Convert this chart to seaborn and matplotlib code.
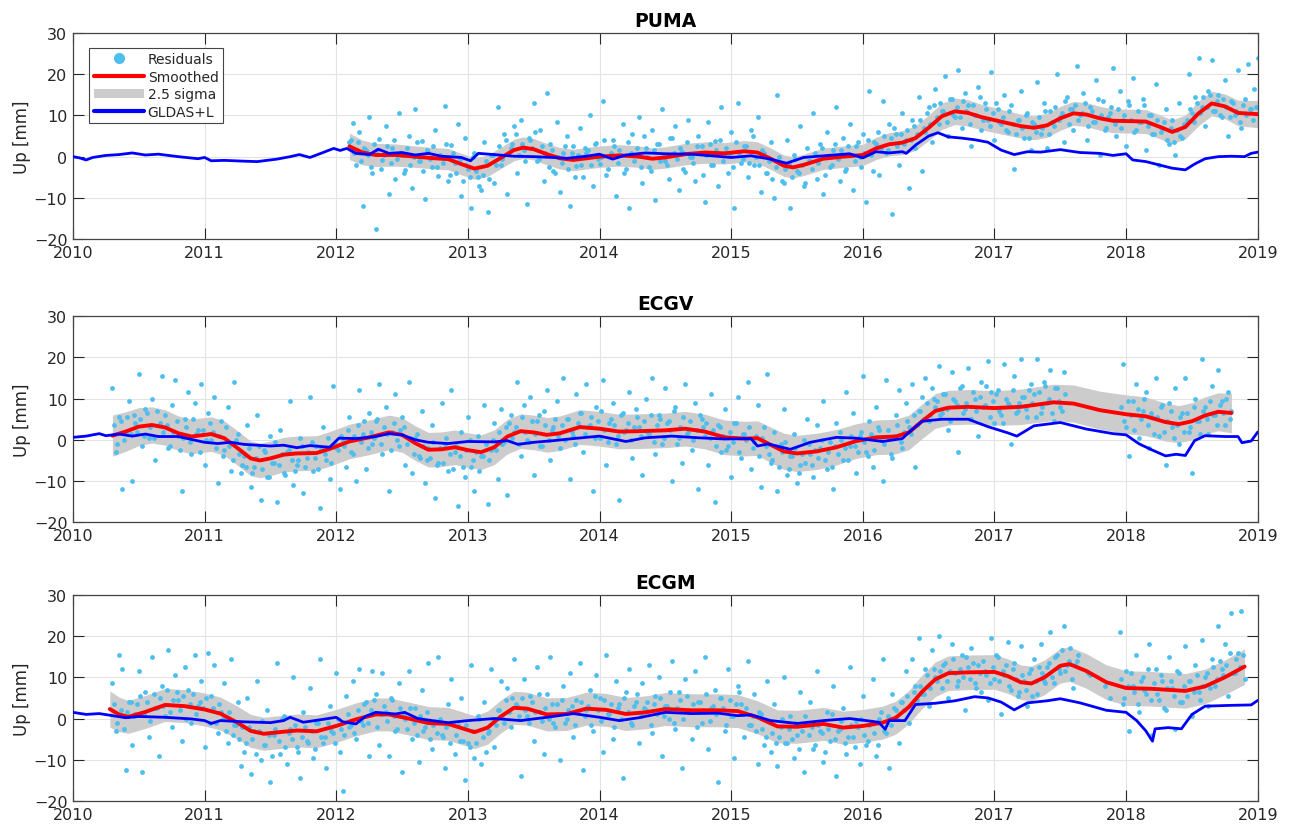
import numpy as np
import pandas as pd
import matplotlib
matplotlib.use("Agg")
import matplotlib.pyplot as plt
import seaborn as sns
from matplotlib.lines import Line2D
from matplotlib.patches import Patch

sns.set_theme(style="ticks")
plt.rcParams['font.family'] = ['DejaVu Sans']

stations = ["PUMA", "ECGV", "ECGM"]
year_ticks = list(range(2010, 2020))
up_ticks = [-20, -10, 0, 10, 20, 30]

# residuals, two interleaved sets sampled every 0.025 yr from their start years
res_step = 0.025
puma_res_start = 2012.1
puma_res = [
    3.5, 8.2, -2.1, 6.0, -12.0, 1.5, 9.5, -4.0, -17.5, 4.2, -0.8, 7.5, -9.0, 2.0, -5.5, 10.5, 0.5, -3.2, 5.0, -7.5,
    11.5, -1.0, 3.8, -10.2, 1.2, -2.5, 6.5, -4.8, 0.0, 12.2, -6.0, 2.8, -1.5, 8.0, -9.5, 4.5, -3.0, -12.5, 1.0, -5.0,
    -8.0, 3.5, -13.5, 0.5, -6.5, 12.0, -2.0, 5.5, -9.0, 2.2, 7.5, -4.0, 9.0, 1.5, -11.5, 4.0, 13.0, -1.0, 6.5, -6.0,
    15.5, 3.0, -3.5, 8.5, -8.5, 0.8, 5.0, -12.0, 2.5, -2.2, 7.0, -5.0, 1.0, 10.0, -7.0, 3.2, -1.8, 13.5, -4.5, 0.2,
    4.0, -9.5, 1.5, 8.0, -3.0, -12.5, 5.5, 0.5, 9.5, -6.5, 2.0, -2.5, 6.5, -10.5, 3.0, 11.5, -1.0, -5.5, 4.5, 7.5,
    -8.0, 1.2, -3.8, 9.0, 0.0, -6.0, 5.0, 2.5, -11.0, 8.5, -2.0, 3.8, -7.0, 12.0, 1.0, -4.0, 6.0, -12.5, 13.0, -1.5,
    2.5, -5.0, 6.5, -2.0, 9.5, -8.5, 1.0, -4.0, 3.5, -10.0, 15.0, -1.5, -6.5, 4.0, -12.5, 0.5, -3.5, 7.5, -7.0, 2.0,
    -1.0, 10.5, -5.5, 3.0, -9.0, 6.0, -2.5, 1.5, 12.0, -6.0, 4.5, -3.0, 8.0, -8.0, 2.5, 0.0, 5.5, -11.0, 16.0, -3.5,
    3.0, -4.5, 13.5, 1.0, 8.0, -14.0, 5.5, -2.0, 10.5, 4.0, -7.5, 9.0, 2.0, 14.5, -3.5, 6.0, 12.0, 3.5, 16.5, 8.0,
    11.0, 19.5, 5.0, 14.0, 9.5, 21.0, 7.0, 15.5, 12.5, 2.5, 10.0, 17.0, 6.5, 13.0, 9.0, 20.5, 4.0, 11.5, 8.0, 15.0,
    6.0, 12.5, -3.0, 9.0, 16.0, 4.5, 10.5, 1.5, 8.0, 18.0, 5.5, 13.0, 2.0, 11.0, 7.5, 20.0, 9.5, 3.5, 14.5, 11.5,
    6.5, 22.0, 10.0, 15.5, 4.0, 12.0, 8.5, 18.5, 0.5, 13.5, 7.0, 10.5, 21.5, 5.0, 16.0, 9.0, 2.5, 12.5, 19.0, 6.5,
    8.5, 14.0, 1.5, 10.0, 5.5, 17.5, -2.0, 7.0, 11.5, 3.0, 9.0, 0.5, 13.0, 4.5, 8.0, 20.0, 10.5, 14.5, 24.0, 12.0,
    7.5, 16.0, 23.5, 11.0, 15.0, 9.5, 18.5, 5.0, 13.5, 10.0, 21.0, 7.0, 14.0, 22.5, 11.5, 16.5, 24.0,
]
puma_res2_start = 2012.1125
puma_res2 = [
    4.0, 1.0, 3.5, -1.0, 2.0, 0.5, -2.5, 3.0,
    1.5, -3.0, 0.5, 2.5, -1.5, 4.0, -0.5, 1.0, -4.0, 2.0, -2.0, 0.0, 3.5, -1.0, -3.5, 1.5, -0.5, 2.5, -2.5, 0.5,
    -1.5, 3.0, -4.5, 1.0,
    -4.0, -0.5, -6.0, -2.0, -5.0, 0.0, -3.5, -7.0,
    -4.5, -1.0, -5.5, 0.5, -2.0, 2.5, -0.5, 4.0, 1.0, 3.0,
    5.5, 0.5, 3.0, -1.0, 4.5, 2.0, 6.0, -0.5, 2.5, 1.0,
    -2.5, 1.5, -4.0, 0.0, -1.5, 2.5, -3.0, 1.0, -5.0, 0.5, -2.0, 2.0,
    1.5, -2.0, 3.0, -0.5, 0.0, 4.0, -3.0, 1.0, 2.5, -1.5, 0.5, -4.0, 3.5, 1.0, -1.0, 2.0, -2.5, 5.0, 0.0, -3.5,
    1.5, 3.0, -1.0, 0.5, -2.0, 4.5, 1.0, -0.5, 2.0, -3.0, 3.5, 0.0, -1.5, 2.5, 1.0, -4.5, 0.5, 3.0, -2.0, 1.5,
    4.0, -1.0, 2.0, 0.5, -2.5, 3.5, 1.0, -0.5, 2.5, -1.5, 5.0, 0.0,
    -2.0, 1.5, -4.0, -1.0, -5.5, -2.5, 0.0, -6.0, -3.0, -1.5, -5.0, -0.5, -4.0, -2.0, -6.5, -1.0,
    -3.0, 1.0, -1.5, 2.0, -4.5, 0.0, -2.0, 3.0, -0.5, 1.5, -3.5, 2.5, 0.5, -1.0, 3.5, -2.5,
    1.0, 4.0, 0.5, 3.5, 6.0, 2.0, 5.0, 1.5, 4.5, 7.0, 2.5, 5.5, 3.0, 6.5, 4.0, 7.5,
    5.5, 9.0, 7.0, 10.5, 8.0, 12.5, 9.5, 13.0, 11.0, 8.5, 14.0, 10.0,
    12.0, 9.5, 13.5, 11.0, 8.0, 12.5, 10.0, 14.5, 9.0, 11.5, 7.5, 10.5, 13.0, 8.5, 9.5, 6.5, 11.0, 8.0, 5.5, 9.0,
    7.0, 10.0, 4.5, 8.5,
    6.0, 9.5, 7.0, 11.0, 5.5, 8.5, 12.0, 9.0, 10.5, 13.5, 8.0, 11.5,
    12.5, 9.0, 10.5, 13.0, 7.5, 11.0, 8.5, 14.0, 10.0, 6.5, 9.5, 12.0, 8.0, 11.5, 7.0, 10.0, 13.5, 9.0, 6.0, 11.0,
    8.5, 12.5, 7.5, 10.0, 5.5, 9.0,
    6.0, 8.5, 4.0, 7.0, 3.5, 6.5, 5.0, 8.0,
    9.0, 11.5, 8.5, 13.0, 10.5, 14.5, 12.0, 15.0,
    11.0, 13.5, 10.0, 14.0, 12.0, 9.5, 13.0, 11.0, 8.5, 12.5, 10.0, 11.5, 9.0, 12.0,
]

ecgv_res_start = 2010.3
ecgv_res = [
    12.5, -3.0, 5.5, -12.0, 2.0, 9.5, -10.0, 4.0, 16.0, -1.5, 7.5, 0.5, 10.0, -5.0, 3.5, 15.5, 6.0, -2.0, 8.5, 14.5,
    1.0, -12.5, 5.0, 11.5, -3.5, 9.0, 2.5, 13.5, -6.0, 6.5, 0.0, 10.5, -10.5, 4.5, -2.5, 8.0, -7.5, 14.0, 1.5, -8.0,
    -4.0, 3.5, -11.5, -6.5, 6.0, -14.5, -2.5, -9.0, 1.0, -5.5, -15.0, 2.5, -8.0, -3.0, 9.5, -11.0, -6.0, 0.5, -13.0, -4.5,
    10.5, -7.5, -1.5, -16.5, 3.0, -5.0, -9.5, 13.0, -2.0, -12.0, 0.0, -6.5, 5.5, -3.5, -10.0, 12.0, 1.5, -7.0, 6.5, -1.0,
    4.5, 13.5, -3.5, 8.0, -12.5, 2.0, 11.0, -1.5, 5.5, -6.0, 14.0, -8.0, 0.5, -4.0, 7.0, -10.5, -2.0, 3.5, -14.0, -5.5,
    9.0, -1.0, -7.5, 12.0, -3.0, -16.0, 2.0, -9.0, 5.5, -6.5, -12.5, 1.0, -4.0, 8.5, -15.5, -2.5, 4.0, -9.5, 7.5, -0.5,
    -13.5, 6.0, 2.0, 14.0, -4.0, 8.5, 0.0, 10.5, -8.5, 4.5, -1.5, 7.0, 12.0, -5.0, 3.0, 9.5, -2.0, 15.0, 5.0, -9.5,
    1.0, 11.0, 6.5, -3.0, 13.5, 3.5, -12.5, 8.0, 0.5, 14.5, -6.0, 4.0, 9.0, -1.0, -14.5, 6.5, 2.5, 11.5, -4.5, 7.5,
    3.0, -8.5, 10.0, 1.5, 15.0, -3.5, 6.0, -1.0, 12.5, 4.5, -10.0, 8.0, 0.5, -5.5, 13.5, 2.0, -2.5, 9.0, -12.0, 5.0,
    1.0, -6.0, 11.0, -15.0, 3.5, -3.0, 7.5, -1.5, -9.0, 4.0, 10.5, -4.5, 1.5, 14.0, -7.0, -0.5, 8.5, -11.5, 3.0, 16.0,
    -5.5, 2.0, -12.5, -1.0, 7.5, -8.5, -4.0, 1.5, -10.5, -6.0, 0.0, 5.0, -3.5, -9.0, 3.5, -2.0, 9.5, -7.0, -0.5, -12.0,
    4.0, 2.0, -5.0, 11.5, -1.5, 6.5, -8.0, 1.0, 15.5, -3.0, 4.5, -6.5, 8.0, 2.5, -10.0, 14.5, 0.5, -4.5, 6.0, 12.0,
    -2.0, 9.0, 3.0, 13.5, -6.5, 7.0, 10.5, 15.0, 4.5, 12.5, 8.0, 18.0, 6.5, 11.0, 2.5, 16.5, 9.5, -3.0, 13.0, 7.5,
    17.5, 5.0, 10.0, 1.0, 14.0, 8.5, 19.0, 11.5, 4.0, 12.0, 6.0, 18.5, 9.0, -1.0, 15.5, 7.0, 19.5, 10.5, 5.5, 13.5,
    11.0, 19.5, 6.5, 14.0, 9.0, 17.0, 4.5, 12.5, 8.0, 16.5, np.nan, np.nan, np.nan, np.nan, np.nan, np.nan, np.nan, np.nan, np.nan, np.nan,
    np.nan, np.nan, np.nan, np.nan, np.nan, np.nan, np.nan, 18.5, 3.0, -4.0, 9.5, 13.5, 0.5, 7.0, 11.5, -2.0, 5.5, 15.0, 1.0, 8.5,
    -6.0, 9.0, 3.0, 12.5, -1.0, 6.5, 15.0, 2.0, -8.0, 10.0, 4.5, 19.5, 8.0, 1.5, 13.0, 6.0, 17.0, 9.5, 3.5, 11.5, 7.0,
]
ecgv_res2_start = 2010.3125
ecgv_res2 = [
    3.5, -1.0, 4.5, 0.0, 5.5, 1.5, 6.0, 2.0,
    5.0, 1.0, 6.5, 3.0, 0.5, 7.0, 4.0, 2.0,
    3.5, -1.5, 2.0, 4.5, -2.5, 0.5, 3.0, -0.5, 5.0, 1.5, -3.0, 2.5, 0.0, 4.0,
    2.0, -2.0, 1.0, -4.0, 3.0, -1.5, -5.0, 0.0, -3.5, -6.0,
    -6.5, -2.0, -8.0, -4.5, -1.5, -7.0, -3.0, -9.0, -5.5, -0.5, -6.0, -3.5, -8.5, -2.5, -5.0, -7.5,
    -5.0, -1.5, -6.5, -3.0, -0.5, -4.5, -7.0, -2.0, -3.5, 0.5, -5.5, -1.0, -2.5, 1.0,
    -1.5, 2.5, -3.0, 1.0, 3.5, -0.5, 4.5, -2.0, 2.0, 0.5, 5.0, -1.0, 3.0, 1.5, -2.5, 4.0, 0.0, 2.5,
    3.0, -1.0, 0.5, -3.5, 1.5, -4.5, -1.5, -5.0,
    -4.5, -0.5, -6.0, -2.0, -5.5, 0.5, -3.5, -7.0, -1.5, -4.0, -6.5, -2.5, 0.0, -5.0, -3.0, -7.5,
    -4.0, -1.0, -5.0, 0.0, -2.5, 2.0, -1.0, 3.0,
    4.0, 0.5, 3.0, -1.0, 5.5, 2.0, -0.5, 4.5, 1.5, 6.0, -1.5, 3.5, 0.0, 2.5, 5.0, 1.0,
    3.5, 0.0, 5.0, 2.0, -1.0, 4.0, 6.5, 1.5, 3.0, 5.5, 0.5, 4.5, 7.0, 2.5, -0.5, 5.0, 3.5, 1.0, 6.0, 2.0,
    4.0, 0.0, 3.0, 5.5,
    1.0, 4.5, 2.0, 6.0, -0.5, 3.5, 5.0, 0.5, 4.0, 2.5, 7.0, -1.0, 3.0, 5.5, 1.5, 4.5, 0.0, 2.5, 6.0, 3.0,
    4.0, 0.5, 2.5, -1.5, 3.0, 1.0, -2.5, 2.0, -0.5, 4.0, -3.0, 1.5, 0.0, 3.0, -2.0, 1.0, -4.0, 0.5, -1.5, -3.5,
    -5.0, -1.5, -6.5, -3.0, -0.5, -7.0, -4.0, -2.0, -8.0, -3.5, -5.5, -1.0, -6.0, -2.5, -4.5, 0.0, -5.0, -3.0, -6.5, -1.5,
    -3.5, 0.0, -2.0, -5.0, 1.0, -1.5, -3.0, 2.0, -0.5, -4.0, 1.5, -2.5, 3.0, 0.0, -1.0, 2.5, -3.5, 1.0, 3.5, -0.5,
    2.0, 4.5, 1.5, 6.0, 3.5, 7.0, 5.0, 9.0, 6.0, 10.0,
    9.5, 6.0, 11.0, 7.5, 4.5, 10.0, 8.5, 12.5, 6.5, 9.0, 5.0, 11.5, 7.0, 10.5, 8.0, 13.0, 5.5, 9.5, 11.0, 7.0,
    4.0, 10.0, 8.5, 12.0, 6.5, 9.0,
    10.5, 7.5, 12.0, 9.0, 5.5, 11.5, 8.0, 13.0, 10.0, 6.5, 12.5, 9.5, 7.0, 11.0,
    np.nan, np.nan, np.nan, np.nan, np.nan, np.nan, np.nan, np.nan, np.nan, np.nan, np.nan, np.nan, np.nan, np.nan, np.nan, np.nan,
    8.0, 4.5, 9.5, 6.0, 2.5, 7.5, 5.0, 10.0, 3.5, 6.5, 1.5, 5.5, 8.0, 2.0, 4.5, 7.0, 0.5, 3.5,
    5.5, 2.0, 6.5, 3.0, 8.0, 4.5, 1.5, 7.0, 5.0, 9.5, 6.0, 3.5, 8.5, 6.5, 10.0, 5.0,
]

ecgm_res_start = 2010.3
ecgm_res = [
    8.5, -3.0, 15.5, 12.0, -12.5, 4.0, -6.5, 1.0, 11.5, -13.0, 6.5, -4.5, 15.0, 2.5, -9.0, 8.0, 0.5, 16.5, -2.0, 10.5,
    4.5, -5.5, 12.5, 7.0, -1.0, 15.5, 3.0, 9.0, -7.0, 16.0, 5.5, 13.0, -3.5, 1.5, 8.5, -6.0, 14.5, -1.5, 4.0, -11.5,
    -8.0, 5.0, -13.5, -3.0, 9.0, -10.0, -6.5, 2.0, -15.5, -4.0, 13.5, -8.5, 0.5, -11.0, -2.5, 10.0, -7.0, -14.5, 1.5, -5.5,
    7.5, -9.5, -1.0, 14.5, -6.0, -12.0, 3.0, -3.5, 11.0, -8.0, -17.5, 5.5, -2.0, 9.0, -5.0, 12.0, -1.5, 4.0, -9.0, 11.5,
    6.0, -6.5, 11.0, 1.5, -9.0, 4.5, -3.0, 8.5, -13.0, 0.0, 11.5, -5.0, 2.5, -10.5, 7.0, -2.0, 13.5, -7.5, -0.5, 15.0,
    -4.0, -12.0, 3.5, 9.5, -8.5, -1.5, 5.0, -15.0, -6.0, 13.0, -9.5, 0.5, -11.0, 4.0, -3.5, 12.0, -7.0, 2.0, 9.0, -1.0,
    7.5, -2.0, 14.5, 3.0, -14.0, 9.5, 0.5, 5.5, -5.5, 12.5, 1.5, -8.5, 6.0, 15.0, -1.0, 3.5, -10.0, 8.0, 0.0, 11.0,
    -4.5, 4.5, 13.5, -12.5, 2.0, 7.0, -3.0, 10.5, 5.0, -8.0, 15.5, 1.0, -5.0, 9.0, 3.5, -14.5, 6.5, 12.0, -1.5, 4.0,
    -6.0, 8.5, 2.0, 13.0, -3.5, 5.5, 10.0, -9.0, 3.0, 0.0, 14.0, -2.5, 6.5, -12.0, 9.5, 1.5, -5.0, 11.5, 4.0, -1.0,
    15.0, -7.5, 2.5, 7.0, -15.5, 5.0, -3.0, 12.0, 0.5, -9.5, 8.0, 3.5, -4.5, 14.0, -1.5, 6.0, -11.0, 1.0, -6.5, 9.0,
    -8.0, 3.5, -11.5, -2.0, 10.0, -6.0, 0.5, -9.5, -4.0, 6.5, -13.0, -1.0, 4.0, -7.5, 11.5, -3.0, -10.5, 1.5, -5.5, 8.0,
    -14.0, -2.5, 2.5, -8.5, 12.5, -4.5, -0.5, -11.0, 5.5, -6.5, -1.5, 9.5, -9.0, 0.0, 14.5, -3.5, -12.0, 6.0, 2.0, -6.0,
    4.0, 11.5, -1.0, 14.5, 8.0, 19.5, 6.0, 12.0, 3.0, 16.5, 10.0, 20.0, 7.5, 13.5, 5.0, 18.0, 11.0, 9.0, 15.5, 2.0,
    12.5, 17.0, 8.5, 13.0, 6.5, 11.5, 4.5, 19.5, 9.5, 15.0, 1.0, 10.5, 18.5, 7.0, 13.5, 5.5, 17.5, 9.0, 3.0, 12.0,
    14.5, 6.0, 18.0, 9.0, 12.5, 21.0, 8.5, 15.5, 11.0, 22.5, 13.0, 17.0, 7.5, 14.0, np.nan, np.nan, np.nan, 10.5, np.nan, np.nan,
    np.nan, np.nan, np.nan, 5.0, np.nan, np.nan, 21.0, 3.5, 11.5, -3.0, 8.0, 15.5, 1.5, 10.0, 6.0, 18.0, -4.0, 12.0, 4.5, 9.0,
    2.0, 15.0, 7.5, -2.5, 11.0, 4.0, 17.5, 9.0, 0.5, 13.0, 6.5, 19.0, 10.0, 3.0, 14.5, 8.0, 22.5, 12.0, 18.0, 5.5,
    25.5, 11.0, 16.0, 26.0, 9.5,
]
ecgm_res2_start = 2010.3125
ecgm_res2 = [
    3.5, -1.0, 2.0, -2.5, 1.5, 4.0,
    0.5, 3.5, 5.5, 1.0, 4.0, -0.5, 6.0, 2.5, 5.0, 3.0, 7.0, 1.5, 4.5, 6.5, 2.0, 5.5, 0.0, 3.5, 6.0, 1.0,
    4.0, 2.5, 5.0, -1.0,
    2.5, -1.0, 3.5, 0.0, -3.0, 1.5, -4.0, -1.5, -5.0, -2.0,
    -6.0, -2.0, -5.0, -8.5, -3.0, -0.5, -6.5, -4.0, -9.0, -2.5, -5.5, 0.0, -7.0, -3.5, -5.0, -1.5, -8.0, -4.5, -2.0, -6.0,
    -3.0, -7.5, -1.0, -4.5,
    -4.5, -1.0, -3.0, -6.0, 0.0, -2.5, -4.0, 1.0, -1.5, -3.5, 2.0, -0.5,
    3.5, -1.0, 2.0, 4.5, -2.0, 1.0, 3.0, -0.5, 5.0, 0.5, -2.5, 2.5,
    1.0, -2.5, 2.5, -1.0, -4.0, 0.5, -3.0, 1.5, -5.0, -1.5, -3.5, 0.0, -4.5, -2.0, -6.0, -1.0, -4.0, -5.5,
    -5.5, -1.5, -7.0, -3.0, -6.0, 0.0, -4.5, -8.0,
    -3.0, 0.0, -1.5, 2.0, 0.5, 4.5, 1.5, 5.0,
    3.5, 0.5, 5.0, 2.0, -1.0, 4.0, 1.5, 6.0, -0.5, 2.5, 0.0, 3.5, -2.0, 1.0, 4.5, -1.0, 2.0, 3.0, -1.5, 1.5,
    4.0, 0.5, 3.0, -1.5, 5.5, 2.0, -0.5, 4.5, 1.0, 3.5, -2.0, 2.5, 0.0, 5.0, 1.5, -1.0, 3.0, 6.0, 0.5, 2.5,
    4.0, -1.5, 3.5, 1.0,
    5.0, 0.5, 3.0, 6.5, -1.0, 2.5, 4.5, 0.0, 5.5, 1.5, 3.5, -2.0, 4.0, 2.0, 6.0, -0.5, 3.0, 1.0, 5.0, 2.5,
    -1.5, 4.5, 0.5, 3.5, 6.5, 1.0,
    2.5, -1.5, 0.5, -3.0, 1.5, -2.5, -4.5, -0.5, -3.5, -6.0,
    -4.5, 0.0, -6.0, -2.5, -5.0, -1.0, -7.5, -3.0, 0.5, -4.0, -2.0, -6.5, -1.5, -3.5, -8.0, -2.5, 1.0, -5.0, -3.0, -0.5,
    -6.0, -4.5, -1.5, -7.0, -2.0, 0.0, -4.0, -5.5, -1.0, -3.5, -6.5, 1.5,
    -3.0, 0.5, -1.5, 2.5, 0.0, 4.0, 2.0, 5.5,
    3.0, 6.5, 4.5, 8.0, 6.0, 10.5, 7.5, 12.0, 9.0, 11.5,
    13.0, 9.0, 11.5, 14.5, 8.0, 12.0, 10.0, 15.0, 9.5, 13.5, 7.5, 11.0, 14.0, 10.5, 8.5, 12.5, 15.5, 9.0, 11.5, 13.0,
    8.0, 12.0, 9.5, 6.5, 10.5, 7.0, 11.0, 5.5, 9.0, 12.5,
    11.0, 8.5, 13.5, 10.0, 15.0, 12.0, 16.5, 11.5, 14.0, 9.5, 13.0, 15.5,
    np.nan, np.nan, 11.0, np.nan, np.nan, np.nan, np.nan, 8.0, np.nan, np.nan, np.nan, np.nan,
    9.5, 5.0, 8.0, 11.0, 6.5, 3.5, 9.0, 7.0, 12.0, 4.5, 8.5, 6.0, 10.5, 2.5, 7.5, 9.0, 5.5, 11.5, 4.0, 8.0,
    5.5, 9.0, 6.5, 10.5, 4.5, 8.0, 11.0, 7.5, 12.5, 9.5, 14.0, 10.5, 13.0, 16.0, 11.0, 14.5, 12.5, 15.5,
]

# smoothed series and 2.5 sigma half width
puma_sm_t = [2012.10, 2012.20, 2012.30, 2012.45, 2012.60, 2012.75, 2012.85, 2012.95, 2013.05, 2013.15,
             2013.25, 2013.35, 2013.42, 2013.50, 2013.60, 2013.70, 2013.80, 2013.90, 2014.00, 2014.15,
             2014.30, 2014.40, 2014.50, 2014.65, 2014.80, 2014.95, 2015.10, 2015.20, 2015.30, 2015.40,
             2015.47, 2015.55, 2015.70, 2015.85, 2016.00, 2016.10, 2016.20, 2016.30, 2016.40, 2016.50,
             2016.60, 2016.70, 2016.80, 2016.90, 2017.05, 2017.20, 2017.30, 2017.40, 2017.50, 2017.60,
             2017.70, 2017.80, 2017.90, 2018.05, 2018.15, 2018.25, 2018.35, 2018.45, 2018.55, 2018.65,
             2018.75, 2018.85, 2019.00]
puma_sm = [2.5, 1.0, 0.4, 0.4, 0.0, -0.4, -0.6, -1.8, -2.9, -2.2,
           -0.3, 1.6, 2.2, 1.8, 0.6, -0.4, -0.8, -0.4, 0.0, 0.3,
           0.0, -0.5, -0.2, 0.6, 1.0, 0.8, 1.3, 1.0, -0.5, -2.2,
           -2.6, -2.0, -0.5, 0.0, 0.4, 2.0, 3.0, 3.4, 4.5, 7.0,
           9.8, 11.0, 10.6, 9.6, 8.5, 7.4, 7.0, 7.6, 9.3, 10.5,
           10.2, 9.3, 8.7, 8.6, 8.5, 7.3, 6.0, 7.2, 10.5, 12.9,
           12.2, 10.6, 10.3]
puma_sig = [3.2, 3.0, 2.8, 2.7, 2.6, 2.6, 2.6, 2.6, 2.6, 2.6,
            2.6, 2.6, 2.6, 2.6, 2.6, 2.6, 2.6, 2.6, 2.6, 2.6,
            2.6, 2.6, 2.6, 2.6, 2.6, 2.6, 2.6, 2.6, 2.6, 2.6,
            2.6, 2.6, 2.6, 2.6, 2.6, 2.7, 2.8, 2.9, 3.0, 3.1,
            3.2, 3.2, 3.2, 3.1, 3.0, 2.9, 2.9, 2.9, 2.9, 2.9,
            2.9, 2.9, 2.9, 2.9, 2.9, 2.9, 2.9, 2.9, 3.0, 3.0,
            3.0, 3.1, 3.3]

ecgv_sm_t = [2010.30, 2010.40, 2010.50, 2010.60, 2010.70, 2010.80, 2010.90, 2011.00, 2011.05, 2011.15,
             2011.25, 2011.35, 2011.42, 2011.50, 2011.60, 2011.70, 2011.85, 2011.95, 2012.10, 2012.25,
             2012.40, 2012.50, 2012.60, 2012.70, 2012.80, 2012.90, 2013.00, 2013.10, 2013.20, 2013.30,
             2013.40, 2013.50, 2013.60, 2013.70, 2013.85, 2014.00, 2014.15, 2014.30, 2014.50, 2014.65,
             2014.80, 2014.95, 2015.10, 2015.20, 2015.30, 2015.40, 2015.50, 2015.65, 2015.80, 2015.95,
             2016.10, 2016.25, 2016.35, 2016.45, 2016.55, 2016.65, 2016.80, 2017.00, 2017.20, 2017.45,
             2017.60, 2017.80, 2018.00, 2018.15, 2018.30, 2018.40, 2018.50, 2018.60, 2018.70, 2018.80]
ecgv_sm = [1.0, 2.0, 3.2, 3.6, 3.0, 1.6, 0.8, 1.2, 1.4, 0.4,
           -2.0, -4.5, -5.0, -4.5, -3.6, -3.3, -3.2, -2.2, -0.4, 0.6,
           1.8, 1.2, -0.8, -2.4, -2.3, -1.8, -2.5, -3.0, -1.8, 0.8,
           2.1, 1.8, 1.2, 1.6, 3.1, 2.7, 2.0, 2.1, 2.3, 2.7,
           2.0, 0.6, 0.3, 0.4, -1.2, -2.8, -3.3, -2.8, -1.8, -0.3,
           0.6, 0.8, 1.8, 4.5, 7.0, 7.8, 8.0, 7.7, 8.0, 9.1,
           8.8, 7.2, 6.2, 5.7, 4.3, 3.8, 4.5, 5.9, 6.8, 6.5]
ecgv_sig = [5.0, 4.8, 4.6, 4.4, 4.3, 4.2, 4.2, 4.2, 4.2, 4.2,
            4.2, 4.2, 4.2, 4.2, 4.2, 4.2, 4.2, 4.2, 4.2, 4.2,
            4.2, 4.2, 4.2, 4.2, 4.2, 4.2, 4.2, 4.2, 4.2, 4.2,
            4.2, 4.2, 4.2, 4.2, 4.2, 4.2, 4.2, 4.2, 4.2, 4.2,
            4.2, 4.2, 4.2, 4.2, 4.3, 4.4, 4.4, 4.4, 4.3, 4.2,
            4.2, 4.2, 4.2, 4.2, 4.2, 4.2, 4.2, 4.2, 4.3, 4.4,
            4.5, 4.6, 4.7, 4.7, 4.6, 4.5, 4.5, 4.5, 4.6, 4.8]

ecgm_sm_t = [2010.28, 2010.35, 2010.42, 2010.55, 2010.70, 2010.85, 2011.00, 2011.12, 2011.25, 2011.35,
             2011.45, 2011.60, 2011.70, 2011.85, 2012.00, 2012.15, 2012.30, 2012.40, 2012.55, 2012.70,
             2012.85, 2012.95, 2013.05, 2013.15, 2013.25, 2013.35, 2013.45, 2013.60, 2013.75, 2013.90,
             2014.05, 2014.20, 2014.35, 2014.50, 2014.70, 2014.90, 2015.05, 2015.20, 2015.35, 2015.50,
             2015.70, 2015.85, 2016.00, 2016.15, 2016.25, 2016.35, 2016.45, 2016.55, 2016.65, 2016.80,
             2017.00, 2017.10, 2017.20, 2017.28, 2017.38, 2017.50, 2017.57, 2017.70, 2017.85, 2018.00,
             2018.20, 2018.35, 2018.45, 2018.60, 2018.75, 2018.90]
ecgm_sm = [2.3, 1.0, 0.4, 1.6, 3.3, 3.0, 2.2, 1.2, -1.0, -3.0,
           -3.7, -3.2, -2.9, -3.1, -1.8, -0.2, 1.0, 1.0, 0.0, -1.1,
           -1.3, -2.3, -3.3, -2.2, 0.5, 2.6, 2.4, 1.0, 1.1, 2.4,
           2.1, 1.1, 1.5, 2.3, 2.0, 2.0, 1.8, 0.3, -1.9, -2.0,
           -1.3, -2.2, -1.8, -1.0, 0.2, 2.8, 6.5, 9.5, 11.0, 11.2,
           11.3, 10.3, 8.8, 8.5, 10.0, 12.8, 13.2, 11.5, 8.8, 7.4,
           7.2, 6.9, 6.7, 7.8, 10.0, 12.6]
ecgm_sig = [4.4, 4.2, 4.0, 4.0, 4.0, 4.0, 4.0, 4.0, 4.0, 4.0,
            4.0, 4.0, 4.0, 4.0, 4.0, 4.0, 4.0, 4.0, 4.0, 4.0,
            4.0, 4.0, 4.0, 4.0, 4.0, 4.0, 4.0, 4.0, 4.0, 4.0,
            4.0, 4.0, 4.0, 4.0, 4.0, 4.0, 4.0, 4.0, 4.0, 4.0,
            4.0, 4.0, 4.0, 4.0, 4.0, 4.0, 4.1, 4.2, 4.2, 4.2,
            4.2, 4.2, 4.2, 4.2, 4.2, 4.2, 4.2, 4.2, 4.2, 4.2,
            4.2, 4.2, 4.2, 4.2, 4.2, 4.3]

# GLDAS+L loading
puma_gl_t = [2010.00, 2010.05, 2010.10, 2010.15, 2010.25, 2010.35, 2010.45, 2010.55, 2010.65, 2010.80,
             2010.95, 2011.00, 2011.05, 2011.15, 2011.30, 2011.40, 2011.55, 2011.65, 2011.72, 2011.80,
             2011.90, 2011.98, 2012.03, 2012.08, 2012.15, 2012.25, 2012.32, 2012.40, 2012.50, 2012.60,
             2012.70, 2012.80, 2012.95, 2013.02, 2013.08, 2013.20, 2013.35, 2013.50, 2013.65, 2013.75,
             2013.90, 2014.00, 2014.10, 2014.20, 2014.35, 2014.50, 2014.70, 2014.85, 2015.00, 2015.15,
             2015.30, 2015.42, 2015.55, 2015.70, 2015.90, 2016.00, 2016.10, 2016.20, 2016.30, 2016.33,
             2016.40, 2016.50, 2016.57, 2016.65, 2016.75, 2016.85, 2016.95, 2017.05, 2017.15, 2017.25,
             2017.35, 2017.50, 2017.65, 2017.80, 2017.90, 2018.00, 2018.05, 2018.15, 2018.25, 2018.35,
             2018.45, 2018.52, 2018.60, 2018.70, 2018.80, 2018.90, 2018.95, 2019.00]
puma_gl = [0.0, -0.3, -0.8, -0.2, 0.3, 0.5, 0.9, 0.4, 0.6, 0.0,
           -0.5, -0.2, -1.0, -0.9, -1.1, -1.2, -0.6, 0.0, 0.5, -0.2,
           1.0, 2.0, 1.5, 2.0, 0.8, 0.5, 1.8, 0.8, 1.0, 0.4,
           0.8, 0.1, -0.2, -1.0, 0.8, 0.5, 0.1, 0.0, -0.2, -0.4,
           0.1, 0.6, -0.6, 0.4, 0.9, 0.7, 0.6, 0.2, -0.2, 0.2,
           -0.6, -1.6, -0.2, 0.2, 0.7, -0.3, 1.2, 0.9, 1.2, 0.8,
           2.8, 5.0, 5.8, 4.8, 4.5, 4.1, 3.5, 1.6, 0.5, 1.2,
           1.1, 1.7, 1.0, 0.8, 0.3, 0.7, -0.8, -1.2, -2.0, -2.8,
           -3.2, -1.8, -0.5, 0.0, 0.1, 0.0, 0.8, 1.1]

ecgv_gl_t = [2010.00, 2010.10, 2010.20, 2010.25, 2010.35, 2010.45, 2010.55, 2010.65, 2010.80, 2010.90,
             2011.00, 2011.10, 2011.20, 2011.30, 2011.40, 2011.50, 2011.60, 2011.70, 2011.80, 2011.95,
             2012.02, 2012.15, 2012.30, 2012.40, 2012.50, 2012.60, 2012.70, 2012.85, 2013.00, 2013.20,
             2013.30, 2013.38, 2013.50, 2013.65, 2013.80, 2014.00, 2014.20, 2014.35, 2014.55, 2014.75,
             2014.95, 2015.15, 2015.20, 2015.28, 2015.45, 2015.60, 2015.80, 2015.95, 2016.15, 2016.30,
             2016.35, 2016.45, 2016.60, 2016.80, 2016.95, 2017.10, 2017.17, 2017.30, 2017.50, 2017.70,
             2017.90, 2018.00, 2018.10, 2018.20, 2018.30, 2018.38, 2018.45, 2018.52, 2018.60, 2018.75,
             2018.85, 2018.88, 2018.95, 2019.00]
ecgv_gl = [0.6, 0.9, 1.5, 1.0, 1.4, 0.9, 1.4, 0.8, 0.8, 0.1,
           -0.6, -0.9, -0.6, -1.1, -1.3, -1.5, -1.3, -1.9, -1.4, -1.8,
           0.4, 0.3, 0.8, 1.5, 1.2, 0.0, -0.6, -0.9, -0.4, -0.5,
           -0.2, -1.1, -0.6, -0.2, 0.3, 0.9, -0.4, 0.5, 0.9, 0.5,
           0.2, 0.3, -1.5, -1.0, -2.3, -0.6, 0.6, 0.4, -0.4, 0.3,
           1.8, 4.5, 5.0, 5.0, 3.2, 1.7, 0.9, 3.4, 4.2, 2.6,
           1.5, 1.2, -1.0, -2.5, -3.9, -3.5, -3.8, -0.2, 1.0, 0.8,
           0.8, -0.7, -0.3, 1.9]

ecgm_gl_t = [2010.00, 2010.10, 2010.20, 2010.30, 2010.40, 2010.50, 2010.70, 2010.90, 2011.00, 2011.05,
             2011.12, 2011.30, 2011.50, 2011.60, 2011.65, 2011.75, 2011.90, 2012.00, 2012.05, 2012.15,
             2012.22, 2012.30, 2012.45, 2012.52, 2012.62, 2012.75, 2012.85, 2013.00, 2013.20, 2013.40,
             2013.60, 2013.80, 2014.00, 2014.15, 2014.30, 2014.50, 2014.70, 2014.90, 2015.05, 2015.15,
             2015.30, 2015.50, 2015.70, 2015.90, 2016.05, 2016.12, 2016.17, 2016.20, 2016.32, 2016.40,
             2016.55, 2016.70, 2016.85, 2016.95, 2017.05, 2017.15, 2017.25, 2017.40, 2017.50, 2017.65,
             2017.85, 2018.00, 2018.08, 2018.15, 2018.20, 2018.22, 2018.32, 2018.42, 2018.50, 2018.60,
             2018.80, 2018.95, 2019.00]
ecgm_gl = [1.5, 1.0, 1.2, 0.7, 0.2, 0.5, 0.3, -0.1, -0.5, -1.2,
           -0.5, -0.8, -1.0, -0.5, 0.3, -0.9, -0.2, 0.3, -0.8, -1.3,
           0.5, 1.5, 1.1, 1.5, 0.0, -0.6, -1.0, -0.5, 0.0, -0.5,
           0.3, 1.2, 0.3, -0.5, 0.2, 1.5, 1.2, 1.3, 0.7, 0.9,
           -0.5, -1.2, -0.5, 0.0, -0.6, -0.9, -2.6, -0.5, -0.5, 3.4,
           3.7, 4.3, 5.3, 5.0, 4.0, 2.1, 3.8, 4.3, 4.8, 3.8,
           2.0, 1.5, -0.5, -3.0, -5.5, -2.5, -2.2, -2.5, 1.0, 3.0,
           3.2, 3.3, 4.4]

panels = [
    ((puma_res_start, puma_res), (puma_res2_start, puma_res2), puma_sm_t, puma_sm, puma_sig, puma_gl_t, puma_gl),
    ((ecgv_res_start, ecgv_res), (ecgv_res2_start, ecgv_res2), ecgv_sm_t, ecgv_sm, ecgv_sig, ecgv_gl_t, ecgv_gl),
    ((ecgm_res_start, ecgm_res), (ecgm_res2_start, ecgm_res2), ecgm_sm_t, ecgm_sm, ecgm_sig, ecgm_gl_t, ecgm_gl),
]

res_col = "#4dbeee"
sm_col = "#ff0000"
band_col = "#cccccc"
gl_col = "#0000ff"
axis_col = "#262626"


def residual_frame(*sets):
    parts = []
    for start, vals in sets:
        t = start + res_step * np.arange(len(vals))
        parts.append(pd.DataFrame({"t": t, "up": vals}))
    return pd.concat(parts).dropna()


fig = plt.figure(figsize=(12.98, 8.28), dpi=100)
fig.patch.set_facecolor("white")
bottoms = [0.710, 0.368, 0.0314]
for i, name in enumerate(stations):
    set_a, set_b, smt, sm, sig, glt, gl = panels[i]
    ax = fig.add_axes([0.0562, bottoms[i], 0.9128, 0.249])
    ax.set_facecolor("white")

    dres = residual_frame(set_a, set_b)
    smt = np.array(smt)
    sm = np.array(sm)
    sig = np.array(sig)

    ax.fill_between(smt, sm - sig, sm + sig, color=band_col, lw=0, zorder=1)
    sns.scatterplot(data=dres, x="t", y="up", color=res_col, s=12, linewidth=0,
                    ax=ax, zorder=2)
    sns.lineplot(x=smt, y=sm, color=sm_col, lw=2.8, ax=ax, estimator=None, sort=False, zorder=3)
    sns.lineplot(x=glt, y=gl, color=gl_col, lw=2.0, ax=ax, estimator=None, sort=False, zorder=4)

    ax.set_xlim(2010, 2019)
    ax.set_ylim(-20, 30)
    ax.set_xticks(year_ticks)
    ax.set_yticks(up_ticks)
    ax.set_xticklabels([str(y) for y in year_ticks])
    ax.grid(True, color="#e3e3e3", lw=0.8, zorder=0)
    ax.set_axisbelow(True)
    ax.tick_params(direction="in", length=8, width=0.8, top=True, right=True,
                   labelsize=11.5, colors=axis_col, pad=4)
    for sp in ax.spines.values():
        sp.set_visible(True)
        sp.set_color("#444444")
        sp.set_linewidth(0.9)
    ax.set_xlabel("")
    ax.set_ylabel("Up [mm]", fontsize=12, color=axis_col, labelpad=2)
    ax.set_title(name, fontsize=13.5, fontweight="bold", pad=5, color="black")

    if i == 0:
        handles = [
            Line2D([], [], marker="o", ls="none", color=res_col, markersize=7),
            Line2D([], [], color=sm_col, lw=3),
            Patch(facecolor=band_col, edgecolor="none"),
            Line2D([], [], color=gl_col, lw=3),
        ]
        leg = ax.legend(handles, ["Residuals", "Smoothed", "2.5 sigma", "GLDAS+L"],
                        loc="upper left", bbox_to_anchor=(0.008, 0.96), fontsize=10,
                        handlelength=3.6, handletextpad=0.3, labelspacing=0.25,
                        borderpad=0.3, fancybox=False, framealpha=1, edgecolor="#444444")
        leg.get_frame().set_linewidth(0.8)

fig.savefig("out.png", dpi=100, facecolor="white")
